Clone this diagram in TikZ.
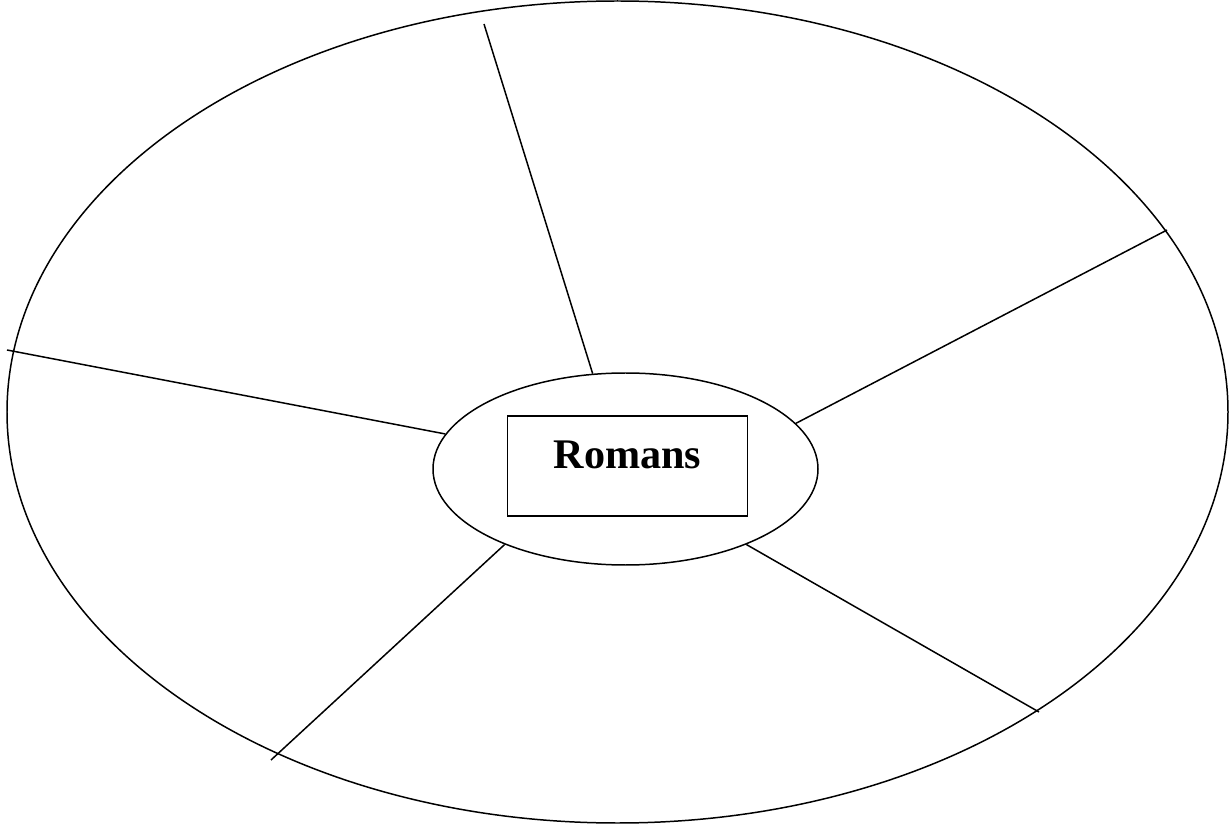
\documentclass[tikz,border=0pt]{standalone}
\usepackage{fontspec}
\setmainfont{Liberation Serif}
\usetikzlibrary{shapes.geometric}

\begin{document}
\begin{tikzpicture}[
    rim/.style={ellipse, draw, line width=0.85pt, inner sep=0pt},
    hubshape/.style={ellipse, draw, line width=0.85pt, inner sep=0pt},
    titlebox/.style={rectangle, draw, line width=1.1pt, inner sep=0pt,
                minimum width=4.8cm, text height=1.06cm, text depth=0.94cm,
                font=\fontsize{24}{29}\selectfont\bfseries},
    spoke/.style={draw, line width=0.85pt}
]
\useasboundingbox (0,0) rectangle (24.58,16.5);
\node[rim, minimum width=24.42cm, minimum height=16.44cm] (wheel) at (12.35,8.26) {};
\node[hubshape, minimum width=7.7cm, minimum height=3.84cm] (hub) at (12.51,7.12) {};
\node[titlebox, anchor=base] (title) at (12.55,7.12) {Romans};
% free ends of the spokes
\coordinate (top) at (9.68,16.02);
\coordinate (upright) at (23.34,11.9);
\coordinate (lowright) at (20.78,2.26);
\coordinate (lowleft) at (5.42,1.3);
\coordinate (left) at (0.14,9.5);
\draw[spoke] (hub.109.2) -- (top);
\draw[spoke] (hub.15) -- (upright);
\draw[spoke] (hub.-32) -- (lowright);
\draw[spoke] (hub.212.9) -- (lowleft);
\draw[spoke] (hub.169.75) -- (left);
\end{tikzpicture}
\end{document}
